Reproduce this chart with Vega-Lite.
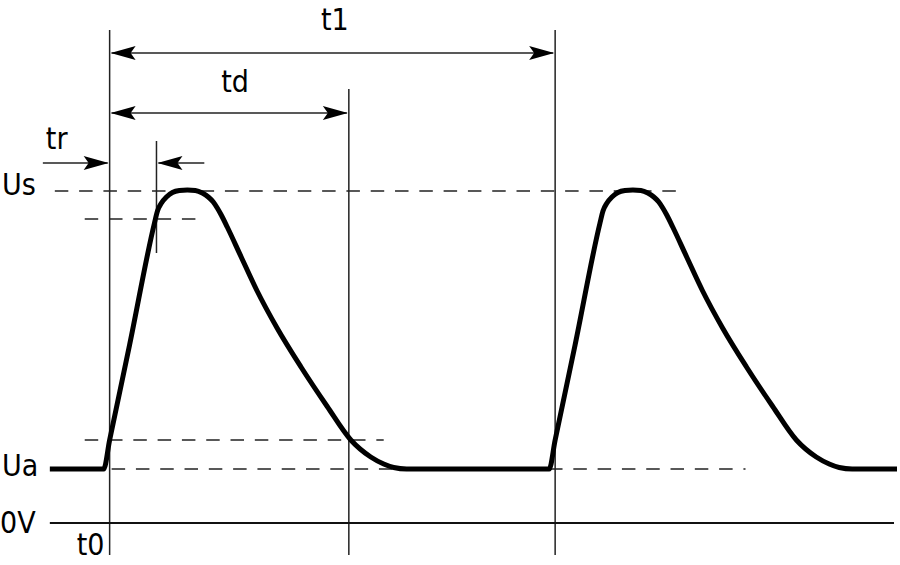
{
  "$schema": "https://vega.github.io/schema/vega-lite/v6.json",
  "width": 900,
  "height": 565,
  "autosize": {"type": "fit", "contains": "padding"},
  "padding": 0,
  "background": "white",
  "datasets": {
    "solid": [
      {"x": 110, "y": 30, "x2": 110, "y2": 555},
      {"x": 350, "y": 89, "x2": 350, "y2": 555},
      {"x": 557, "y": 30, "x2": 557, "y2": 555},
      {"x": 157, "y": 141, "x2": 157, "y2": 253},
      {"x": 112, "y": 53, "x2": 555, "y2": 53},
      {"x": 112, "y": 113, "x2": 348, "y2": 113},
      {"x": 43, "y": 163, "x2": 108, "y2": 163},
      {"x": 159, "y": 163, "x2": 205, "y2": 163}
    ],
    "ground": [
      {"x": 50, "y": 523, "x2": 897, "y2": 523}
    ],
    "dashed": [
      {"x": 55, "y": 191, "x2": 680, "y2": 191},
      {"x": 85, "y": 219, "x2": 197, "y2": 219},
      {"x": 85, "y": 440, "x2": 385, "y2": 440},
      {"x": 112, "y": 469, "x2": 748, "y2": 469}
    ],
    "heads": [
      {"x": 111, "y": 53, "dir": "left"},
      {"x": 556, "y": 53, "dir": "right"},
      {"x": 111, "y": 113, "dir": "left"},
      {"x": 349, "y": 113, "dir": "right"},
      {"x": 109, "y": 163, "dir": "right"},
      {"x": 158, "y": 163, "dir": "left"}
    ],
    "wave": [
      {"o": 1, "x": 50, "y": 469},
      {"o": 2, "x": 104, "y": 469},
      {"o": 3, "x": 110, "y": 440},
      {"o": 4, "x": 130, "y": 345},
      {"o": 5, "x": 155, "y": 223},
      {"o": 6, "x": 158, "y": 211},
      {"o": 7, "x": 162, "y": 203},
      {"o": 8, "x": 167, "y": 197},
      {"o": 9, "x": 173, "y": 192.5},
      {"o": 10, "x": 180, "y": 190.5},
      {"o": 11, "x": 188, "y": 190},
      {"o": 12, "x": 196, "y": 190.5},
      {"o": 13, "x": 203, "y": 193},
      {"o": 14, "x": 209, "y": 197},
      {"o": 15, "x": 214, "y": 202},
      {"o": 16, "x": 218, "y": 208},
      {"o": 17, "x": 222, "y": 215},
      {"o": 18, "x": 228, "y": 227},
      {"o": 19, "x": 242, "y": 257},
      {"o": 20, "x": 258, "y": 291},
      {"o": 21, "x": 278, "y": 328},
      {"o": 22, "x": 302, "y": 367},
      {"o": 23, "x": 328, "y": 406},
      {"o": 24, "x": 352, "y": 440},
      {"o": 25, "x": 372, "y": 457},
      {"o": 26, "x": 385, "y": 464},
      {"o": 27, "x": 395, "y": 467.5},
      {"o": 28, "x": 408, "y": 469},
      {"o": 29, "x": 551, "y": 469},
      {"o": 30, "x": 557, "y": 440},
      {"o": 31, "x": 577, "y": 345},
      {"o": 32, "x": 602, "y": 223},
      {"o": 33, "x": 605, "y": 211},
      {"o": 34, "x": 609, "y": 203},
      {"o": 35, "x": 614, "y": 197},
      {"o": 36, "x": 620, "y": 192.5},
      {"o": 37, "x": 627, "y": 190.5},
      {"o": 38, "x": 635, "y": 190},
      {"o": 39, "x": 643, "y": 190.5},
      {"o": 40, "x": 650, "y": 193},
      {"o": 41, "x": 656, "y": 197},
      {"o": 42, "x": 661, "y": 202},
      {"o": 43, "x": 665, "y": 208},
      {"o": 44, "x": 669, "y": 215},
      {"o": 45, "x": 675, "y": 227},
      {"o": 46, "x": 689, "y": 257},
      {"o": 47, "x": 705, "y": 291},
      {"o": 48, "x": 725, "y": 328},
      {"o": 49, "x": 749, "y": 367},
      {"o": 50, "x": 775, "y": 406},
      {"o": 51, "x": 799, "y": 440},
      {"o": 52, "x": 819, "y": 457},
      {"o": 53, "x": 832, "y": 464},
      {"o": 54, "x": 842, "y": 467.5},
      {"o": 55, "x": 855, "y": 469},
      {"o": 56, "x": 900, "y": 469}
    ],
    "labels": [
      {"x": 322, "y": 30, "text": "t1"},
      {"x": 222, "y": 92, "text": "td"},
      {"x": 46, "y": 149, "text": "tr"},
      {"x": 2, "y": 195, "text": "Us"},
      {"x": 2, "y": 476, "text": "Ua"},
      {"x": 0, "y": 533, "text": "0V"},
      {"x": 77, "y": 555, "text": "t0"}
    ]
  },
  "layer": [
    {
      "data": {"name": "dashed"},
      "mark": {"type": "rule", "color": "#222", "strokeWidth": 1.4, "strokeDash": [13.5, 10.8]},
      "encoding": {
        "x": {"field": "x", "type": "quantitative", "scale": {"domain": [0, 900], "nice": false, "zero": false}, "axis": null},
        "y": {"field": "y", "type": "quantitative", "scale": {"domain": [0, 565], "reverse": true, "nice": false, "zero": false}, "axis": null},
        "x2": {"field": "x2"},
        "y2": {"field": "y2"}
      }
    },
    {
      "data": {"name": "solid"},
      "mark": {"type": "rule", "color": "#222", "strokeWidth": 1.5},
      "encoding": {
        "x": {"field": "x", "type": "quantitative"},
        "y": {"field": "y", "type": "quantitative"},
        "x2": {"field": "x2"},
        "y2": {"field": "y2"}
      }
    },
    {
      "data": {"name": "ground"},
      "mark": {"type": "rule", "color": "#111", "strokeWidth": 2.2},
      "encoding": {
        "x": {"field": "x", "type": "quantitative"},
        "y": {"field": "y", "type": "quantitative"},
        "x2": {"field": "x2"},
        "y2": {"field": "y2"}
      }
    },
    {
      "data": {"name": "heads"},
      "mark": {"type": "point", "filled": true, "color": "#000", "opacity": 1, "size": 2500},
      "encoding": {
        "x": {"field": "x", "type": "quantitative"},
        "y": {"field": "y", "type": "quantitative"},
        "shape": {
          "field": "dir",
          "type": "nominal",
          "scale": {
            "domain": ["left", "right"],
            "range": ["M0,0 L1,-0.28 L0.8,0 L1,0.28 Z", "M0,0 L-1,-0.28 L-0.8,0 L-1,0.28 Z"]
          },
          "legend": null
        }
      }
    },
    {
      "data": {"name": "wave"},
      "mark": {"type": "line", "color": "#000", "strokeWidth": 5, "strokeJoin": "round", "strokeCap": "butt", "interpolate": "monotone"},
      "encoding": {
        "x": {"field": "x", "type": "quantitative"},
        "y": {"field": "y", "type": "quantitative"},
        "order": {"field": "o", "type": "quantitative"}
      }
    },
    {
      "data": {"name": "labels"},
      "mark": {"type": "text", "align": "left", "baseline": "alphabetic", "font": "DejaVu Sans Condensed, Roboto, sans-serif", "fontSize": 30, "color": "#000"},
      "encoding": {
        "x": {"field": "x", "type": "quantitative"},
        "y": {"field": "y", "type": "quantitative"},
        "text": {"field": "text"}
      }
    }
  ],
  "config": {
    "view": {"stroke": null}
  }
}
